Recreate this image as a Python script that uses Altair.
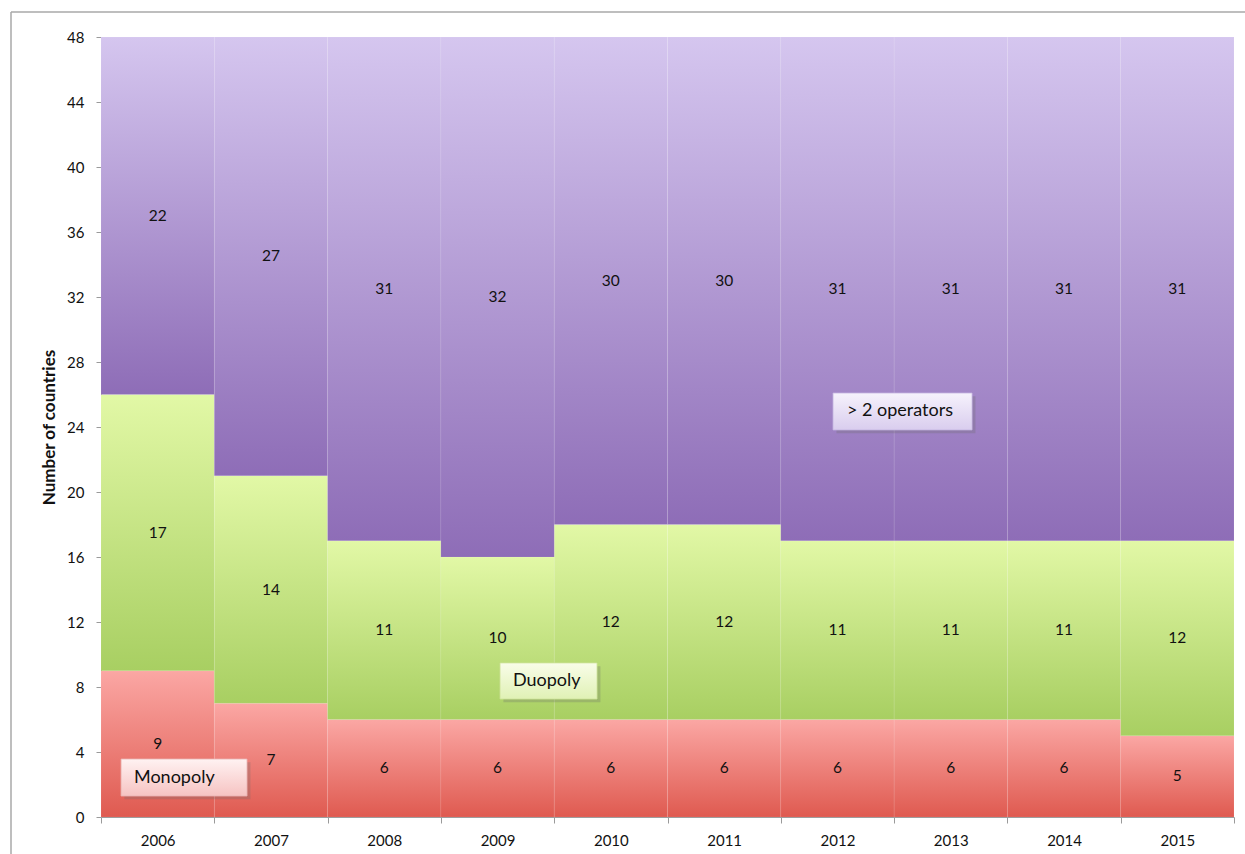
import altair as alt
import pandas as pd

# Number of countries by market structure, per year
years = ["2006", "2007", "2008", "2009", "2010", "2011", "2012", "2013", "2014", "2015"]
monopoly = [9, 7, 6, 6, 6, 6, 6, 6, 6, 5]
duopoly = [17, 14, 11, 10, 12, 12, 11, 11, 11, 12]
multi = [22, 27, 31, 32, 30, 30, 31, 31, 31, 31]
categories = ["Monopoly", "Duopoly", "> 2 operators"]
series = [monopoly, duopoly, multi]

# stacked segment bounds
rows = []
for i, yr in enumerate(years):
    base = 0
    for cat, vals in zip(categories, series):
        v = vals[i]
        rows.append({"year": yr, "category": cat, "value": v,
                     "y0": base, "y1": base + v, "mid": base + v / 2})
        base += v
df = pd.DataFrame(rows)

FONT = "Lato"
W, H = 1133, 780


def vgrad(top, bottom):
    return alt.Gradient(
        gradient="linear",
        stops=[alt.GradientStop(color=top, offset=0),
               alt.GradientStop(color=bottom, offset=1)],
        x1=0, x2=0, y1=0, y2=1,
    )


seg_fill = {
    "Monopoly": vgrad("#fba7a4", "#df5a50"),
    "Duopoly": vgrad("#e2f8a6", "#a8cf62"),
    "> 2 operators": vgrad("#d5c6ef", "#8e6db7"),
}

y_scale = alt.Scale(domain=[0, 48], nice=False, zero=True)
y_axis = alt.Axis(values=list(range(0, 49, 4)), title="Number of countries",
                  titleFontWeight="bold", titleFontSize=17, titlePadding=8,
                  labelPadding=12, tickSize=5, grid=False)
x_enc = alt.X("year:N", sort=years,
              scale=alt.Scale(paddingInner=0, paddingOuter=0),
              axis=alt.Axis(title=None, labelAngle=0, tickBand="extent",
                            tickSize=6, labelPadding=10, grid=False))

layers = []
for cat in categories:
    layers.append(
        alt.Chart(df).transform_filter(alt.datum.category == cat)
        .mark_bar(fill=seg_fill[cat], stroke="#ffffff", strokeOpacity=0.07, strokeWidth=1)
        .encode(x=x_enc,
                y=alt.Y("y1:Q", scale=y_scale, axis=y_axis),
                y2="y0:Q")
    )

value_labels = alt.Chart(df).mark_text(font=FONT, fontSize=15.5, color="#111111").encode(
    x=x_enc,
    y=alt.Y("mid:Q", scale=y_scale, axis=y_axis),
    text="value:Q",
)
main = alt.layer(*layers, value_labels)

# callout boxes, placed in column-index units (x) and countries (y)
box_names = ["Monopoly", "Duopoly", "> 2 operators"]
box_x0 = [0.177, 3.522, 6.461]
box_x1 = [1.289, 4.378, 7.688]
box_y0 = [1.29, 7.26, 23.82]
box_y1 = [3.57, 9.48, 26.09]
box_tx = [0.291, 3.636, 6.584]
box_top = ["#fff2f2", "#f9fde9", "#f6f2fc"]
box_bottom = ["#f6c3c2", "#e0f1b5", "#d9cdee"]
box_edge = ["#e9b2b1", "#cfe39b", "#c6b7e2"]

x_idx = alt.Scale(domain=[0, 10], nice=False, zero=False)
callouts = []
for i, name in enumerate(box_names):
    bd = pd.DataFrame({"x0": [box_x0[i]], "x1": [box_x1[i]],
                       "y0": [box_y0[i]], "y1": [box_y1[i]],
                       "sx0": [box_x0[i] + 0.03], "sx1": [box_x1[i] + 0.03],
                       "sy0": [box_y0[i] - 0.2], "sy1": [box_y1[i] - 0.2],
                       "tx": [box_tx[i]], "ty": [(box_y0[i] + box_y1[i]) / 2],
                       "label": [name]})
    shadow = alt.Chart(bd).mark_rect(color="#6a6a6a", opacity=0.28).encode(
        x=alt.X("sx0:Q", scale=x_idx, axis=None), x2="sx1:Q",
        y=alt.Y("sy1:Q", scale=y_scale, axis=y_axis), y2="sy0:Q")
    box = alt.Chart(bd).mark_rect(fill=vgrad(box_top[i], box_bottom[i]),
                                  stroke=box_edge[i], strokeWidth=0.8).encode(
        x=alt.X("x0:Q", scale=x_idx, axis=None), x2="x1:Q",
        y=alt.Y("y1:Q", scale=y_scale, axis=y_axis), y2="y0:Q")
    txt = alt.Chart(bd).mark_text(font=FONT, fontSize=18, color="#111111",
                                  align="left", baseline="middle").encode(
        x=alt.X("tx:Q", scale=x_idx, axis=None),
        y=alt.Y("ty:Q", scale=y_scale, axis=y_axis),
        text="label:N")
    callouts += [shadow, box, txt]

# outer frame lines
one = pd.DataFrame({"k": [0]})
frame_top = alt.Chart(one).mark_rule(color="#a8a8a8", strokeWidth=1.5).encode(
    x=alt.value(-90), x2=alt.value(W + 20), y=alt.value(-25))
frame_left = alt.Chart(one).mark_rule(color="#a8a8a8", strokeWidth=1.5).encode(
    x=alt.value(-90), y=alt.value(-25), y2=alt.value(H + 60))

chart = alt.layer(main, *callouts, frame_top, frame_left).resolve_scale(
    x="independent"
).properties(
    width=W, height=H,
    autosize=alt.AutoSizeParams(type="none"),
    padding={"left": 101, "top": 37, "right": 11, "bottom": 37},
    background="#ffffff",
).configure_view(stroke=None).configure_axis(
    labelFont=FONT, titleFont=FONT, labelFontSize=15, labelColor="#111111",
    titleColor="#111111", domainColor="#9a9a9a", tickColor="#9a9a9a",
)

chart.save("out.html", embed_options={"renderer": "svg", "actions": False})
